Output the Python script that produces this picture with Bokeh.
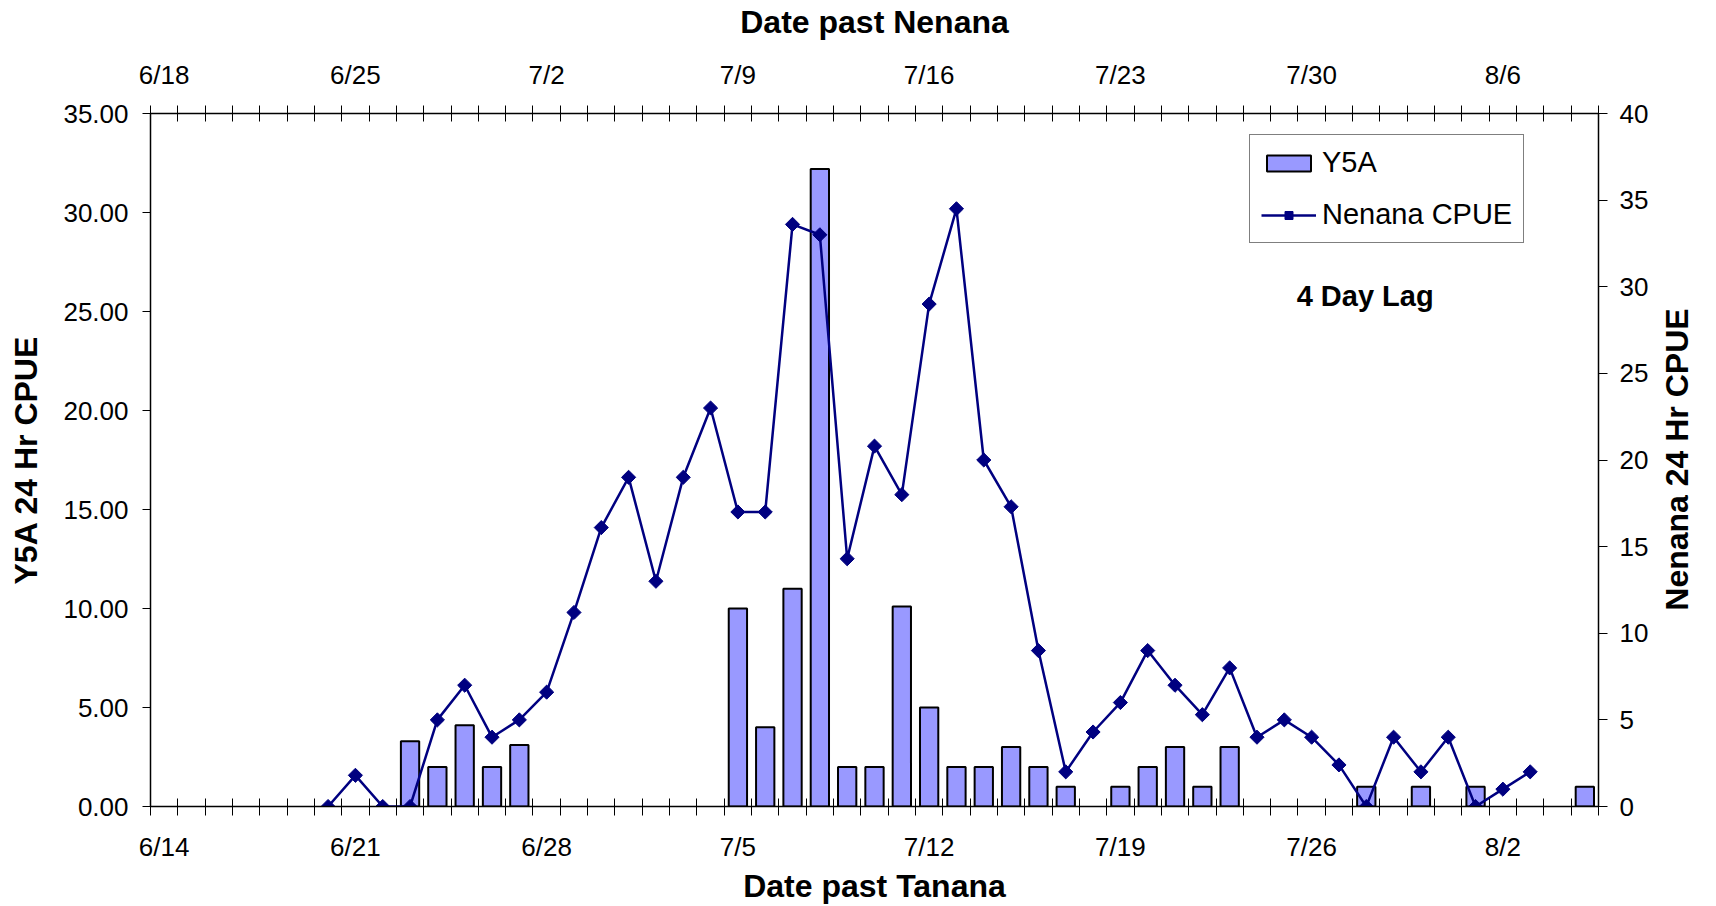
import numpy as np
from bokeh.plotting import figure
from bokeh.models import (Range1d, LinearAxis, FixedTicker, Label, Legend,
                          LegendItem, NumeralTickFormatter, ColumnDataSource)
from bokeh.embed import file_html
from bokeh.resources import INLINE

# ---- data -------------------------------------------------------------
tanana_days = ["6/14", "6/15", "6/16", "6/17", "6/18", "6/19", "6/20", "6/21", "6/22",
               "6/23", "6/24", "6/25", "6/26", "6/27", "6/28", "6/29", "6/30", "7/1",
               "7/2", "7/3", "7/4", "7/5", "7/6", "7/7", "7/8", "7/9", "7/10", "7/11",
               "7/12", "7/13", "7/14", "7/15", "7/16", "7/17", "7/18", "7/19", "7/20",
               "7/21", "7/22", "7/23", "7/24", "7/25", "7/26", "7/27", "7/28", "7/29",
               "7/30", "7/31", "8/1", "8/2", "8/3", "8/4", "8/5"]
nenana_days = ["6/18", "6/19", "6/20", "6/21", "6/22", "6/23", "6/24", "6/25", "6/26",
               "6/27", "6/28", "6/29", "6/30", "7/1", "7/2", "7/3", "7/4", "7/5", "7/6",
               "7/7", "7/8", "7/9", "7/10", "7/11", "7/12", "7/13", "7/14", "7/15",
               "7/16", "7/17", "7/18", "7/19", "7/20", "7/21", "7/22", "7/23", "7/24",
               "7/25", "7/26", "7/27", "7/28", "7/29", "7/30", "7/31", "8/1", "8/2",
               "8/3", "8/4", "8/5", "8/6", "8/7", "8/8", "8/9"]
bottom_tick_labels = ["6/14", "6/21", "6/28", "7/5", "7/12", "7/19", "7/26", "8/2"]
top_tick_labels = ["6/18", "6/25", "7/2", "7/9", "7/16", "7/23", "7/30", "8/6"]

y5a = [None, None, None, None, None, None, None, None, None,
       3.3, 2.0, 4.1, 2.0, 3.1, None, None, None, None, None, None, None,
       10.0, 4.0, 11.0, 32.2, 2.0, 2.0, 10.1, 5.0, 2.0, 2.0, 3.0, 2.0, 1.0, None,
       1.0, 2.0, 3.0, 1.0, 3.0, None, None, None, None,
       1.0, None, 1.0, None, 1.0, None, None, None, 1.0]
nenana = [None, None, None, None, None, None,
          0.0, 1.8, 0.0, 0.0, 5.0, 7.0, 4.0, 5.0, 6.6, 11.2, 16.1, 19.0, 13.0, 19.0,
          23.0, 17.0, 17.0, 33.6, 33.0, 14.3, 20.8, 18.0, 29.0, 34.5, 20.0, 17.3,
          9.0, 2.0, 4.3, 6.0, 9.0, 7.0, 5.3, 8.0, 4.0, 5.0, 4.0, 2.4, 0.0, 4.0, 2.0,
          4.0, 0.0, 1.0, 2.0, None, None]

# ---- styling ------------------------------------------------------------
FONT = "Liberation Sans"
TICK_FS = "26px"
TITLE_FS = "32px"
FRAME_H = 906 - 113 - 96          # plot-area height in px

n = len(tanana_days)
bar_src = ColumnDataSource(dict(
    x=[i for i, v in enumerate(y5a) if v is not None],
    top=[v for v in y5a if v is not None],
    day=[tanana_days[i] for i, v in enumerate(y5a) if v is not None]))
line_src = ColumnDataSource(dict(
    x=[i for i, v in enumerate(nenana) if v is not None],
    y=[v for v in nenana if v is not None],
    day=[nenana_days[i] for i, v in enumerate(nenana) if v is not None]))

x_range = Range1d(-0.5, n - 0.5)
y_range = Range1d(0, 35)
right_range = Range1d(0, 40)
p = figure(width=1716, height=906, output_backend="svg", toolbar_location=None,
           x_range=x_range, y_range=y_range,
           min_border_left=150, min_border_right=114,
           min_border_top=113, min_border_bottom=96)
p.extra_y_ranges = {"right": right_range}
p.outline_line_color = None
p.xgrid.visible = False
p.ygrid.visible = False
p.background_fill_color = "white"
p.border_fill_color = "white"

bars = p.vbar(x="x", top="top", bottom=0, width=0.67, source=bar_src,
              fill_color="#9999FF", line_color="black", line_width=2)
line = p.line(x="x", y="y", source=line_src, y_range_name="right",
              line_color="#000080", line_width=2.5)
marks = p.scatter(x="x", y="y", source=line_src, y_range_name="right",
                  marker="square", angle=np.pi / 4, size=10,
                  fill_color="#000080", line_color="#000080")

major_pos = [tanana_days.index(d) for d in bottom_tick_labels]
minor_pos = [i - 0.5 for i in range(n + 1)]


def style_axis(ax):
    ax.axis_line_color = "black"
    ax.axis_line_width = 1.5
    ax.major_label_text_font = FONT
    ax.major_label_text_font_size = TICK_FS
    ax.major_label_text_color = "black"
    ax.axis_label_text_font = FONT
    ax.axis_label_text_font_size = TITLE_FS
    ax.axis_label_text_font_style = "bold"
    ax.axis_label_text_color = "black"
    ax.major_tick_line_color = "black"
    ax.minor_tick_line_color = "black"


# bottom axis (Tanana dates)
xb = p.xaxis[0]
xb.ticker = FixedTicker(ticks=major_pos, minor_ticks=minor_pos)
xb.major_label_overrides = {pos: lab for pos, lab in zip(major_pos, bottom_tick_labels)}
xb.axis_label = "Date past Tanana"
style_axis(xb)
xb.major_tick_in = 0
xb.major_tick_out = 0
xb.minor_tick_in = 8
xb.minor_tick_out = 9
xb.major_label_standoff = 16
xb.axis_label_standoff = 3

# top axis (Nenana dates)
xt = LinearAxis(ticker=FixedTicker(ticks=major_pos, minor_ticks=minor_pos),
                axis_label="Date past Nenana")
xt.major_label_overrides = {pos: lab for pos, lab in zip(major_pos, top_tick_labels)}
style_axis(xt)
xt.major_tick_in = 0
xt.major_tick_out = 0
xt.minor_tick_in = 8
xt.minor_tick_out = 8
xt.major_label_standoff = 16
xt.axis_label_standoff = 17
p.add_layout(xt, "above")

# left axis
yl = p.yaxis[0]
yl.ticker = FixedTicker(ticks=[0, 5, 10, 15, 20, 25, 30, 35])
yl.formatter = NumeralTickFormatter(format="0.00")
yl.axis_label = "Y5A 24 Hr CPUE"
style_axis(yl)
yl.major_tick_in = 0
yl.major_tick_out = 8
yl.minor_tick_in = 0
yl.minor_tick_out = 0
yl.major_label_standoff = 14
yl.axis_label_standoff = 16

# right axis (ticks + labels)
yr = LinearAxis(y_range_name="right",
                ticker=FixedTicker(ticks=[0, 5, 10, 15, 20, 25, 30, 35, 40]))
style_axis(yr)
yr.major_tick_in = 0
yr.major_tick_out = 9
yr.minor_tick_in = 0
yr.minor_tick_out = 0
yr.major_label_standoff = 12
p.add_layout(yr, "right")

# right axis title, reading bottom-to-top: drawn as the single rotated label
# of an outer, line-less axis.  A rotated label starts at its tick, so the
# tick sits half the text length below the middle of the plot area.
RIGHT_TITLE = "Nenana 24 Hr CPUE"
TITLE_LEN_PX = 302
units_per_px = (right_range.end - right_range.start) / FRAME_H
mid = (right_range.start + right_range.end) / 2
title_tick = round(mid - TITLE_LEN_PX / 2 * units_per_px, 1)
yr_title = LinearAxis(y_range_name="right", ticker=FixedTicker(ticks=[title_tick]))
yr_title.major_label_overrides = {title_tick: RIGHT_TITLE}
yr_title.major_label_orientation = np.pi / 2
yr_title.major_label_text_font = FONT
yr_title.major_label_text_font_size = TITLE_FS
yr_title.major_label_text_font_style = "bold"
yr_title.major_label_text_color = "black"
yr_title.axis_line_color = None
yr_title.major_tick_line_color = None
yr_title.minor_tick_line_color = None
yr_title.major_tick_in = 0
yr_title.major_tick_out = 0
yr_title.minor_tick_in = 0
yr_title.minor_tick_out = 0
yr_title.major_label_standoff = 26
p.add_layout(yr_title, "right")

# legend
legend = Legend(items=[LegendItem(label="Y5A", renderers=[bars]),
                       LegendItem(label="Nenana CPUE", renderers=[line, marks])],
                location=(1099, 563))
legend.border_line_color = "black"
legend.border_line_width = 1
legend.background_fill_color = "white"
legend.background_fill_alpha = 1
legend.label_text_font = FONT
legend.label_text_font_size = "29px"
legend.label_text_color = "black"
legend.glyph_width = 55
legend.glyph_height = 20
legend.label_standoff = 6
legend.spacing = 19
legend.padding = 11
legend.margin = 0
p.add_layout(legend, "center")

# annotation
lag = Label(x=43.96, y=25.8, text="4 Day Lag", text_align="center",
            text_baseline="alphabetic", text_font=FONT, text_font_size="29px",
            text_font_style="bold", text_color="black")
p.add_layout(lag)

open("out.html", "w").write(file_html(p, INLINE))
